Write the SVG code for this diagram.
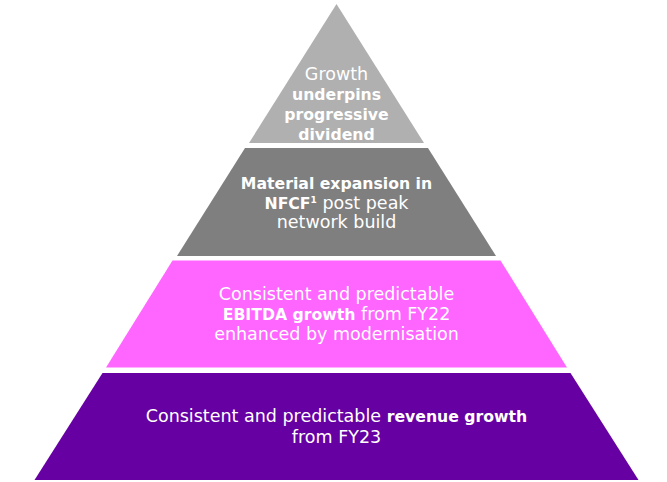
<svg xmlns="http://www.w3.org/2000/svg" width="667" height="482" viewBox="0 0 667 482">
  <style>
    .lbl { font-family: "DejaVu Sans", "Liberation Sans", sans-serif; font-size: 17.5px; fill: #ffffff; text-anchor: middle; }
    .b { font-weight: bold; font-size: 15.7px; }
    .sup { font-size: 9px; font-weight: bold; }
  </style>
  <rect width="667" height="482" fill="#ffffff"/>
  <g id="layer-dividend">
    <polygon points="336.5,4 424,143 249,143" fill="#b0b0b0"/>
    <text class="lbl" x="336.5" y="80">Growth</text>
    <text class="lbl b" x="336.5" y="100">underpins</text>
    <text class="lbl b" x="336.5" y="120">progressive</text>
    <text class="lbl b" x="336.5" y="140">dividend</text>
  </g>
  <g id="layer-nfcf">
    <polygon points="245,148 428,148 496,256 177,256" fill="#7f7f7f"/>
    <text class="lbl b" x="336.5" y="189">Material expansion in</text>
    <text class="lbl" x="336.5" y="209"><tspan class="b">NFCF</tspan><tspan class="sup" dy="-6">1</tspan><tspan dy="6"> post peak</tspan></text>
    <text class="lbl" x="336.5" y="228">network build</text>
  </g>
  <g id="layer-ebitda">
    <polygon points="172.5,260.5 500.5,260.5 567,367.5 106,367.5" fill="#ff66ff"/>
    <text class="lbl" x="336.5" y="300">Consistent and predictable</text>
    <text class="lbl" x="336.5" y="320"><tspan class="b">EBITDA growth</tspan> from FY22</text>
    <text class="lbl" x="336.5" y="340">enhanced by modernisation</text>
  </g>
  <g id="layer-revenue">
    <polygon points="102.5,373 570.5,373 638.5,480 34.5,480" fill="#6600a3"/>
    <text class="lbl" x="336.5" y="422">Consistent and predictable <tspan class="b">revenue growth</tspan></text>
    <text class="lbl" x="336.5" y="443">from FY23</text>
  </g>
  <g id="connectors"/>
</svg>
